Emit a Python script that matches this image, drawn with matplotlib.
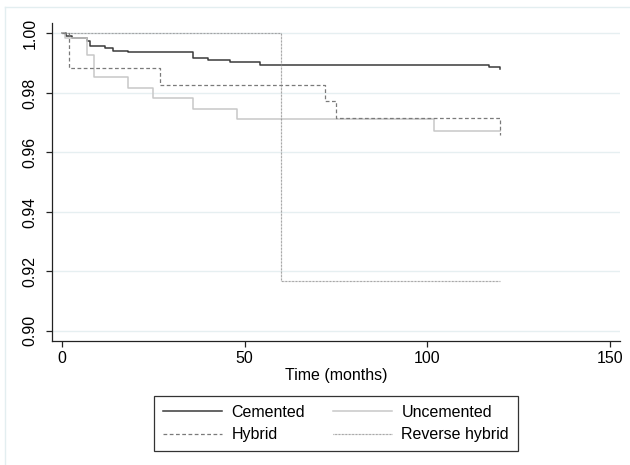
import matplotlib
matplotlib.use("Agg")
import matplotlib.pyplot as plt
from matplotlib.lines import Line2D

plt.rcParams['font.family'] = ['Liberation Sans', 'DejaVu Sans']

# Kaplan-Meier steps (months, survival)
cem_t = [0, 1.1, 2.7, 6.8, 7.8, 11.8, 13.9, 18.0, 36.0, 40.0, 46.0, 54.1, 117.0, 120.0]
cem_s = [1.0, 0.9993, 0.9983, 0.9974, 0.9959, 0.9951, 0.9942, 0.9936, 0.9919, 0.9911,
         0.9903, 0.9895, 0.9888, 0.9881]

unc_t = [0, 0.8, 6.8, 8.9, 18.0, 24.9, 36.0, 48.0, 101.9, 120.0]
unc_s = [1.0, 0.9984, 0.9928, 0.9855, 0.9818, 0.9782, 0.9746, 0.9712, 0.9673, 0.9673]

hyb_t = [0, 2.0, 27.0, 71.9, 75.0, 120.0]
hyb_s = [1.0, 0.9885, 0.9828, 0.9772, 0.9715, 0.9659]

rev_t = [0, 60.0, 120.0]
rev_s = [1.0, 0.9167, 0.9167]

xticks = [0, 50, 100, 150]
yticks = [0.90, 0.92, 0.94, 0.96, 0.98, 1.00]

fs = 11.5

fig = plt.figure(figsize=(6.3, 4.65), dpi=100)
ax = fig.add_axes([0.0821, 0.2667, 0.902, 0.6838])

l_cem, = ax.plot(cem_t, cem_s, drawstyle='steps-post', color='#3a3a3a', lw=1.1, label='Cemented')
l_unc, = ax.plot(unc_t, unc_s, drawstyle='steps-post', color='#c8c8c8', lw=1.1, label='Uncemented')
l_hyb, = ax.plot(hyb_t, hyb_s, drawstyle='steps-post', color='#7a7a7a', lw=0.9,
                 dashes=(3, 2), label='Hybrid')
l_rev, = ax.plot(rev_t, rev_s, drawstyle='steps-post', color='#858585', lw=0.85,
                 dashes=(0.6, 0.6), label='Reverse hybrid')

ax.set_xlim(-2.74, 152.7)
ax.set_ylim(0.8966, 1.0035)
ax.set_xticks(xticks)
ax.set_yticks(yticks)
ax.set_yticklabels([f"{v:.2f}" for v in yticks], rotation=90, va='center')
ax.tick_params(axis='both', labelsize=fs, length=4, width=0.9, color='#222222')
ax.tick_params(axis='y', pad=6)
ax.tick_params(axis='x', pad=3)
ax.set_xlabel("Time (months)", fontsize=fs, labelpad=2)

for s in ['top', 'right']:
    ax.spines[s].set_visible(False)
for s in ['left', 'bottom']:
    ax.spines[s].set_linewidth(0.9)
    ax.spines[s].set_color('#222222')

ax.grid(axis='y', color='#e6eff1', lw=1.0)
ax.set_axisbelow(True)

leg = fig.legend([l_cem, l_hyb, l_unc, l_rev],
                 ['Cemented', 'Hybrid', 'Uncemented', 'Reverse hybrid'],
                 ncol=2, loc='center', bbox_to_anchor=(0.5333, 0.0892),
                 fontsize=fs, handlelength=3.7, handletextpad=0.58,
                 columnspacing=1.75, labelspacing=0.45, borderpad=0.55,
                 fancybox=False, framealpha=1, edgecolor='#333333')
leg.get_frame().set_linewidth(0.9)

# partial outer frame of the graph region
fig.add_artist(Line2D([0.0079, 1.0], [0.985, 0.985], color='#e3eef0', lw=1.0))
fig.add_artist(Line2D([0.0079, 0.0079], [0.0, 0.985], color='#e3eef0', lw=1.0))

fig.savefig("out.png", dpi=100)
